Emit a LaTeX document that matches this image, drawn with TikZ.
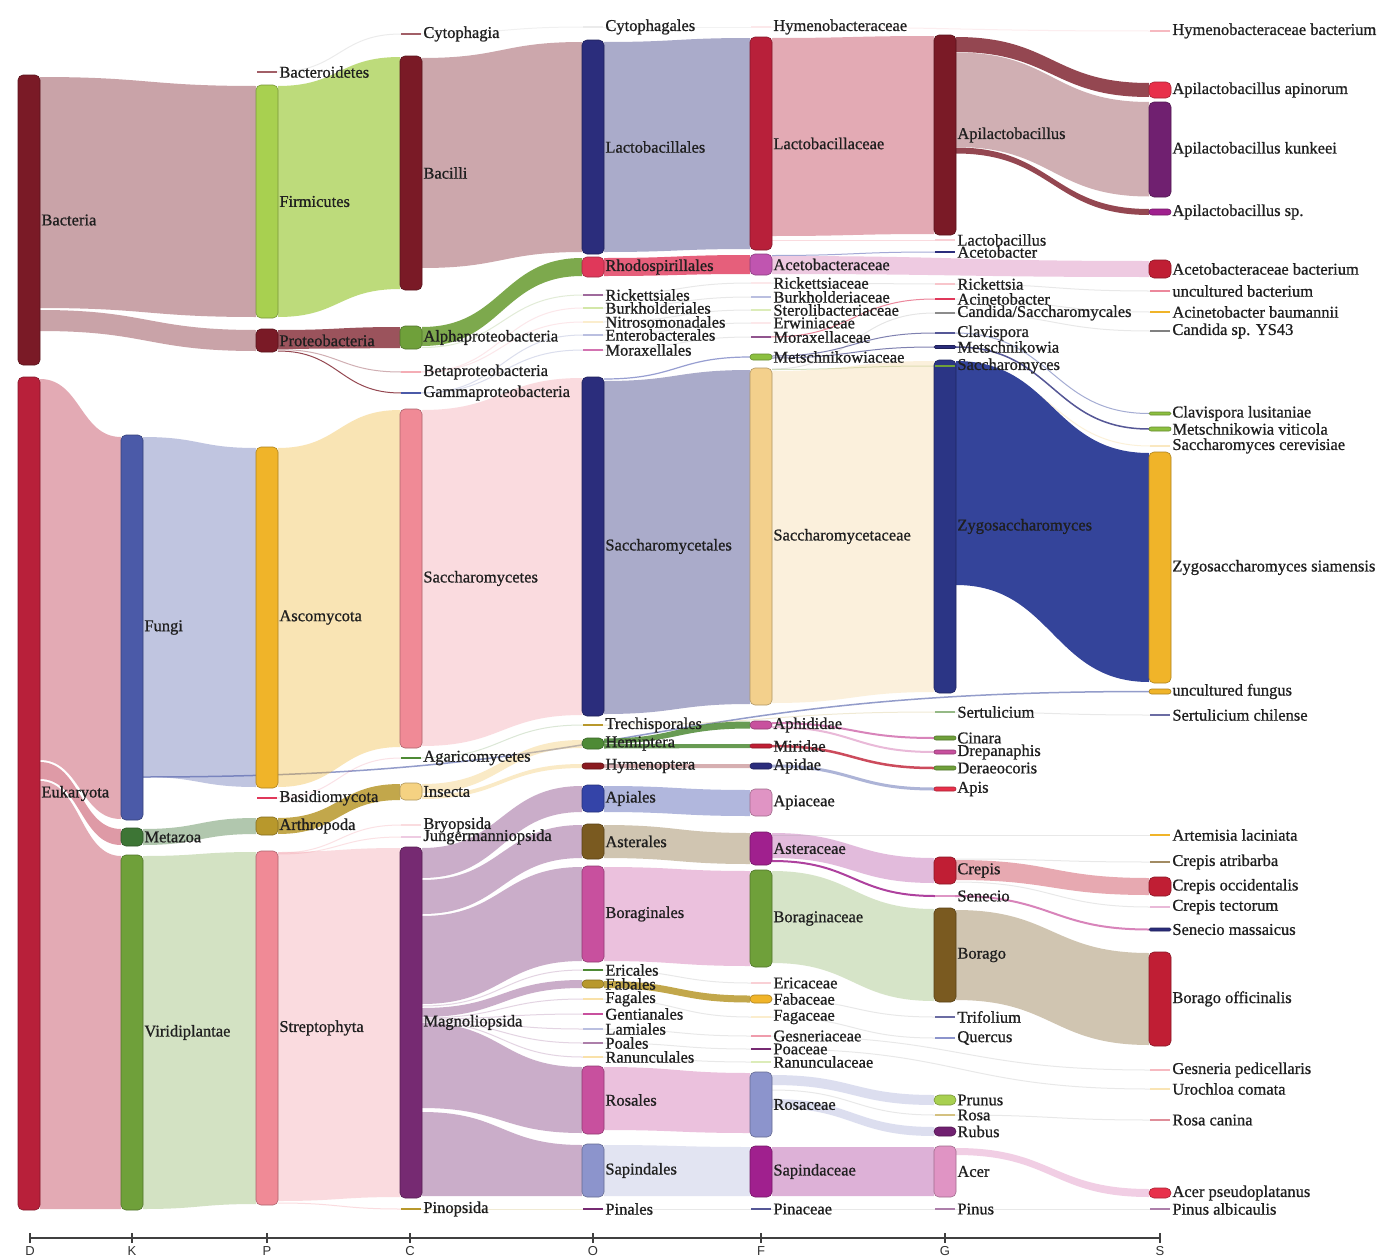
\documentclass[tikz,border=0pt]{standalone}
\usepackage{fontspec}
\setmainfont{Liberation Serif}
\newfontfamily\lblfam{Liberation Serif}[FakeBold=0.8]
\newfontfamily\axfont{Liberation Sans}
\usetikzlibrary{calc}
\pgfdeclarelayer{back}
\pgfdeclarelayer{bg}
\pgfsetlayers{back,bg,main}
\definecolor{cMaroon}{HTML}{7A1A26}
\definecolor{cCrimson}{HTML}{B8203A}
\definecolor{cFungi}{HTML}{4B5AA8}
\definecolor{cMetaz}{HTML}{3D7535}
\definecolor{cGreen}{HTML}{6FA03A}
\definecolor{cLime}{HTML}{A8D050}
\definecolor{cAmber}{HTML}{F0B429}
\definecolor{cOlive}{HTML}{B8982C}
\definecolor{cPink}{HTML}{F08A96}
\definecolor{cInsect}{HTML}{F5D282}
\definecolor{cPurple}{HTML}{762A72}
\definecolor{cNavy}{HTML}{2B2D7C}
\definecolor{cRhodo}{HTML}{E0385A}
\definecolor{cHemi}{HTML}{4E8A35}
\definecolor{cHymen}{HTML}{8A1A20}
\definecolor{cBlue}{HTML}{3444A8}
\definecolor{cBrown}{HTML}{7A5A20}
\definecolor{cMag}{HTML}{C8509E}
\definecolor{cPeri}{HTML}{8C94CC}
\definecolor{cAceF}{HTML}{C055B0}
\definecolor{cMetF}{HTML}{8CC040}
\definecolor{cSacF}{HTML}{F3D08C}
\definecolor{cMagD}{HTML}{A0208E}
\definecolor{cRose}{HTML}{E094C4}
\definecolor{cZygo}{HTML}{2B3585}
\definecolor{cZband}{HTML}{34449A}
\definecolor{cRed}{HTML}{C01E34}
\definecolor{cDeep}{HTML}{702070}
\definecolor{cApin}{HTML}{E8304A}
\newcommand\lblfont{\lblfam\fontsize{16.5pt}{17pt}\selectfont}
\tikzset{
  barshape/.style={minimum width=22pt, inner sep=0pt, outer sep=0pt, line width=0.6pt},
  lbl/.style={anchor=west, inner sep=1.2pt, font=\lblfont, text=black!88},
  fb/.style 2 args={fill=#1, fill opacity=#2, draw=none},
  lnk/.style 2 args={draw=#1, draw opacity=#2, line width=1pt},
  faint/.style={draw=black!40, draw opacity=.22, line width=1pt},
  axisline/.style={draw=black!75, line width=1.8pt},
  axl/.style={anchor=north, inner sep=0pt, font=\axfont\fontsize{13pt}{13pt}\selectfont, text=black!80}
}
% bar node: name, x, ytop, ybot, colour, label
\newcommand\sknode[6]{%
  \pgfmathsetmacro\ndh{#4-#3}%
  \pgfmathsetmacro\ndr{min(5,\ndh/2)}%
  \node[barshape, fill=#5, draw=#5!72!black, minimum height=\ndh pt, rounded corners=\ndr pt] (#1) at (#2,{(#3+#4)/2}) {};%
  \node[lbl] (#1l) at (#1.east) {#6};%
}
% thin tick node: name, x, y, colour, label
\newcommand\sktick[5]{%
  \node[barshape, fill=#4, minimum height=2pt, minimum width=20pt] (#1) at (#2,#3) {};%
  \node[lbl] (#1l) at ([xshift=1pt]#1.east) {#5};%
}
% band: src, top, bot, tgt, top, bot, style
\newcommand\skflow[7]{%
  \path[#7] let \p1=(#1.east), \p2=(#4.west), \p3=($(\p1)!0.5!(\p2)$) in
    (\x1,-#2pt) .. controls (\x3,-#2pt) and (\x3,-#5pt) .. (\x2,-#5pt)
    -- (\x2,-#6pt) .. controls (\x3,-#6pt) and (\x3,-#3pt) .. (\x1,-#3pt) -- cycle;%
}
% thin link: src, y, tgt, y, style
\newcommand\sklink[5]{%
  \draw[#5] let \p1=(#1.east), \p2=(#3.west), \p3=($(\p1)!0.5!(\p2)$) in
    (\x1,-#2pt) .. controls (\x3,-#2pt) and (\x3,-#4pt) .. (\x2,-#4pt);%
}
\begin{document}
\begin{tikzpicture}[x=1pt,y=-1pt]
\useasboundingbox (0,0) rectangle (1385,1258);
\begin{pgfonlayer}{back}
\fill[white] (0,0) rectangle (1385,1258);
\end{pgfonlayer}
% ---------- D
\sknode{bac}{29}{75}{365}{cMaroon}{Bacteria}
\sknode{euk}{29}{377}{1210}{cCrimson}{Eukaryota}
% ---------- K
\sknode{fungi}{132}{435}{820}{cFungi}{Fungi}
\sknode{metaz}{132}{828}{846}{cMetaz}{Metazoa}
\sknode{virid}{132}{855}{1210}{cGreen}{Viridiplantae}
% ---------- P
\sktick{bacteroid}{267}{72}{cMaroon!70}{Bacteroidetes}
\sknode{firm}{267}{85}{318}{cLime}{Firmicutes}
\sknode{proteo}{267}{329}{352}{cMaroon}{Proteobacteria}
\sknode{asco}{267}{447}{788}{cAmber}{Ascomycota}
\sktick{basid}{267}{798}{cRhodo}{Basidiomycota}
\sknode{arthro}{267}{817}{835}{cOlive}{Arthropoda}
\sknode{strep}{267}{851}{1205}{cPink}{Streptophyta}
% ---------- C
\sktick{cytoph}{411}{34}{cMaroon!70}{Cytophagia}
\sknode{bacilli}{411}{56}{290}{cMaroon}{Bacilli}
\sknode{alpha}{411}{326}{349}{cGreen}{Alphaproteobacteria}
\sktick{beta}{411}{372}{cPink!70}{Betaproteobacteria}
\sktick{gamma}{411}{393}{cFungi}{Gammaproteobacteria}
\sknode{saccs}{411}{409}{748}{cPink}{Saccharomycetes}
\sktick{agari}{411}{758}{cHemi}{Agaricomycetes}
\sknode{insecta}{411}{783}{800}{cInsect}{Insecta}
\sktick{bryo}{411}{825}{cPink!30}{Bryopsida}
\sktick{junger}{411}{837}{cMag!30}{Jungermanniopsida}
\sknode{magno}{411}{847}{1198}{cPurple}{Magnoliopsida}
\sktick{pinop}{411}{1209}{cOlive}{Pinopsida}
% ---------- O
\sktick{cytophales}{593}{27}{black!8}{Cytophagales}
\sknode{lactales}{593}{40}{254}{cNavy}{Lactobacillales}
\sknode{rhodo}{593}{257}{277}{cRhodo}{Rhodospirillales}
\sktick{ricketts}{593}{295}{cPurple!70}{Rickettsiales}
\sktick{burkh}{593}{308}{cLime!50}{Burkholderiales}
\sktick{nitro}{593}{322}{cInsect!40}{Nitrosomonadales}
\sktick{entero}{593}{335}{cPeri!60}{Enterobacterales}
\sktick{morax}{593}{350}{cMag!80}{Moraxellales}
\sknode{saccales}{593}{377}{716}{cNavy}{Saccharomycetales}
\sktick{trech}{593}{725}{cOlive}{Trechisporales}
\sknode{hemi}{593}{738}{749}{cHemi}{Hemiptera}
\sknode{hymen}{593}{763}{769}{cHymen}{Hymenoptera}
\sknode{apiales}{593}{785}{812}{cBlue}{Apiales}
\sknode{asterales}{593}{824}{859}{cBrown}{Asterales}
\sknode{borales}{593}{866}{962}{cMag}{Boraginales}
\sktick{ericales}{593}{970}{cHemi}{Ericales}
\sknode{fabales}{593}{980}{988}{cOlive}{Fabales}
\sktick{fagales}{593}{999}{cAmber!40}{Fagales}
\sktick{gentian}{593}{1014}{cMag}{Gentianales}
\sktick{lamiales}{593}{1029}{cPeri!60}{Lamiales}
\sktick{poales}{593}{1043}{cPurple!60}{Poales}
\sktick{ranunc}{593}{1057}{cAmber!40}{Ranunculales}
\sknode{rosales}{593}{1066}{1134}{cMag}{Rosales}
\sknode{sapales}{593}{1144}{1197}{cPeri}{Sapindales}
\sktick{pinales}{593}{1209}{cPurple}{Pinales}
% ---------- F
\sktick{hymfam}{761}{27}{cPink!20}{Hymenobacteraceae}
\sknode{lacfam}{761}{37}{250}{cCrimson}{Lactobacillaceae}
\sknode{acefam}{761}{254}{275}{cAceF}{Acetobacteraceae}
\sktick{rickfam}{761}{283}{cPink!20}{Rickettsiaceae}
\sktick{burkfam}{761}{297}{cPeri!60}{Burkholderiaceae}
\sktick{sterfam}{761}{310}{cLime!40}{Sterolibacteriaceae}
\sktick{erwfam}{761}{323}{cPink!20}{Erwiniaceae}
\sktick{morfam}{761}{337}{cPurple!80}{Moraxellaceae}
\sknode{metfam}{761}{354}{360}{cMetF}{Metschnikowiaceae}
\sknode{sacfam}{761}{368}{705}{cSacF}{Saccharomycetaceae}
\sknode{aphid}{761}{721}{729}{cMag}{Aphididae}
\sknode{mirid}{761}{744}{748}{cRed}{Miridae}
\sknode{apid}{761}{763}{769}{cNavy}{Apidae}
\sknode{apiac}{761}{789}{816}{cRose}{Apiaceae}
\sknode{astfam}{761}{832}{865}{cMagD}{Asteraceae}
\sknode{borfam}{761}{870}{967}{cGreen}{Boraginaceae}
\sktick{ericfam}{761}{983}{cPink!40}{Ericaceae}
\sknode{fabfam}{761}{995}{1003}{cAmber}{Fabaceae}
\sktick{fagfam}{761}{1017}{cInsect!40}{Fagaceae}
\sktick{gesfam}{761}{1036}{cRhodo!50}{Gesneriaceae}
\sktick{poafam}{761}{1049}{cPurple}{Poaceae}
\sktick{ranfam}{761}{1062}{cLime!40}{Ranunculaceae}
\sknode{rosfam}{761}{1072}{1137}{cPeri}{Rosaceae}
\sknode{sapfam}{761}{1146}{1197}{cMagD}{Sapindaceae}
\sktick{pinfam}{761}{1209}{cNavy!80}{Pinaceae}
% ---------- G
\sknode{apilac}{945}{35}{235}{cMaroon}{Apilactobacillus}
\sktick{lactob}{945}{240}{cPink!40}{Lactobacillus}
\sktick{acetob}{945}{252}{cNavy}{Acetobacter}
\sktick{ricka}{945}{284}{cPink!50}{Rickettsia}
\sktick{acin}{945}{299}{cRhodo}{Acinetobacter}
\sktick{candsac}{945}{313}{black!45}{Candida/Saccharomycales}
\sktick{clav}{945}{333}{cNavy!80}{Clavispora}
\sknode{metsch}{945}{345.5}{348.5}{cNavy}{Metschnikowia}
\sknode{zygo}{945}{360}{693}{cZygo}{Zygosaccharomyces}
\sktick{saccharo}{945}{366}{cGreen}{Saccharomyces}
\sktick{sertul}{945}{712}{cHemi!60}{Sertulicium}
\sknode{cinara}{945}{736}{740}{cGreen}{Cinara}
\sknode{drepan}{945}{750}{754}{cMag}{Drepanaphis}
\sknode{deraeo}{945}{766}{770}{cGreen}{Deraeocoris}
\sknode{apis}{945}{787}{791}{cApin}{Apis}
\sknode{crepis}{945}{857}{884}{cRed}{Crepis}
\sktick{senecio}{945}{896}{cMag!60}{Senecio}
\sknode{borago}{945}{908}{1002}{cBrown}{Borago}
\sktick{trifol}{945}{1017}{cNavy!70}{Trifolium}
\sktick{quercus}{945}{1038}{cPeri}{Quercus}
\sknode{prunus}{945}{1095}{1105}{cLime}{Prunus}
\sktick{rosa}{945}{1115}{cOlive!60}{Rosa}
\sknode{rubus}{945}{1127}{1136}{cDeep}{Rubus}
\sknode{acer}{945}{1146}{1197}{cRose}{Acer}
\sktick{pinus}{945}{1209}{cPurple!60}{Pinus}
% ---------- S
\sktick{hymbact}{1160}{31}{cPink!60}{Hymenobacteraceae bacterium}
\sknode{apinor}{1160}{82}{98}{cApin}{Apilactobacillus apinorum}
\sknode{kunk}{1160}{102}{197}{cDeep}{Apilactobacillus kunkeei}
\sknode{apisp}{1160}{209}{215}{cMagD}{Apilactobacillus sp.}
\sknode{acebac}{1160}{260}{278}{cRed}{Acetobacteraceae bacterium}
\sktick{uncbac}{1160}{291}{cRhodo!60}{uncultured bacterium}
\sktick{acibau}{1160}{312}{cAmber}{Acinetobacter baumannii}
\sktick{candys}{1160}{331}{black!50}{Candida sp. YS43}
\sknode{clavlus}{1160}{412}{415}{cMetF}{Clavispora lusitaniae}
\sknode{metvit}{1160}{427}{431}{cMetF}{Metschnikowia viticola}
\sktick{saccer}{1160}{446}{cInsect!50}{Saccharomyces cerevisiae}
\sknode{zygsia}{1160}{452}{683}{cAmber}{Zygosaccharomyces siamensis}
\sknode{uncfun}{1160}{689}{694}{cAmber}{uncultured fungus}
\sktick{sertch}{1160}{715}{cNavy!70}{Sertulicium chilense}
\sktick{artem}{1160}{835}{cAmber}{Artemisia laciniata}
\sktick{crepatr}{1160}{862}{cBrown!70}{Crepis atribarba}
\sknode{crepocc}{1160}{877}{896}{cRed}{Crepis occidentalis}
\sktick{creptec}{1160}{907}{cMag!40}{Crepis tectorum}
\sknode{senmas}{1160}{928}{931}{cNavy}{Senecio massaicus}
\sknode{boroff}{1160}{952}{1046}{cRed}{Borago officinalis}
\sktick{gesped}{1160}{1070}{cPink!60}{Gesneria pedicellaris}
\sktick{uroch}{1160}{1089}{cInsect!60}{Urochloa comata}
\sktick{rosacan}{1160}{1120}{cRed!50}{Rosa canina}
\sknode{acerps}{1160}{1188}{1198}{cApin}{Acer pseudoplatanus}
\sktick{pinalb}{1160}{1209}{cPurple!60}{Pinus albicaulis}
% ---------- flows
\begin{pgfonlayer}{bg}
% D -> P / K
\skflow{bac}{77}{308}{firm}{86}{317}{fb={cMaroon}{.4}}
\skflow{bac}{310}{331}{proteo}{330}{351}{fb={cMaroon}{.4}}
\skflow{euk}{379}{760}{fungi}{437}{819}{fb={cCrimson}{.38}}
\skflow{euk}{762}{779}{metaz}{829}{845}{fb={cCrimson}{.45}}
\skflow{euk}{781}{1209}{virid}{856}{1209}{fb={cCrimson}{.38}}
% K -> P
\skflow{fungi}{437}{777}{asco}{448}{787}{fb={cFungi}{.35}}
\skflow{metaz}{829}{845}{arthro}{818}{834}{fb={cMetaz}{.4}}
\skflow{virid}{856}{1209}{strep}{852}{1204}{fb={cGreen}{.3}}
\sklink{fungi}{777}{uncfun}{691.5}{lnk={cFungi}{.6}, line width=1.5pt}
% P -> C
\sklink{bacteroid}{72}{cytoph}{34}{lnk={black}{.08}}
\skflow{firm}{86}{317}{bacilli}{57}{289}{fb={cLime}{.75}}
\skflow{proteo}{330}{349}{alpha}{327}{348}{fb={cMaroon}{.75}}
\sklink{proteo}{349.5}{beta}{372}{lnk={cMaroon}{.35}}
\sklink{proteo}{351}{gamma}{393}{lnk={cMaroon}{.8}}
\skflow{asco}{448}{787}{saccs}{410}{747}{fb={cAmber}{.35}}
\sklink{basid}{798}{agari}{758}{lnk={cRhodo}{.15}}
\skflow{arthro}{818}{834}{insecta}{784}{800}{fb={cOlive}{.85}}
\skflow{strep}{852}{1201}{magno}{848}{1197}{fb={cPink}{.3}}
\sklink{strep}{853}{bryo}{825}{lnk={cPink}{.25}}
\sklink{strep}{854}{junger}{837}{lnk={cPink}{.25}}
\sklink{strep}{1203}{pinop}{1209}{lnk={cPink}{.3}}
% C -> O
\sklink{cytoph}{34}{cytophales}{27}{lnk={black}{.06}}
\skflow{bacilli}{58}{268}{lactales}{42}{252}{fb={cMaroon}{.38}}
\skflow{alpha}{327}{346}{rhodo}{258}{276}{fb={cGreen}{.9}}
\sklink{alpha}{347.5}{ricketts}{295}{lnk={cGreen}{.2}}
\sklink{beta}{372}{burkh}{308}{lnk={cPink}{.2}}
\sklink{beta}{372}{nitro}{322}{lnk={cPink}{.2}}
\sklink{gamma}{393}{entero}{335}{lnk={cFungi}{.2}}
\sklink{gamma}{393}{morax}{350}{lnk={cFungi}{.2}}
\skflow{saccs}{410}{746}{saccales}{378}{715}{fb={cPink}{.3}}
\sklink{agari}{758}{trech}{725}{lnk={cHemi}{.2}}
\skflow{insecta}{784}{793}{hemi}{740}{748}{fb={cInsect}{.45}}
\skflow{insecta}{795}{799}{hymen}{764}{768}{fb={cInsect}{.45}}
\skflow{magno}{848}{878}{apiales}{786}{812}{fb={cPurple}{.38}}
\skflow{magno}{880}{914}{asterales}{825}{858}{fb={cPurple}{.38}}
\skflow{magno}{916}{1004}{borales}{867}{961}{fb={cPurple}{.38}}
\sklink{magno}{1006}{ericales}{970}{lnk={cPurple}{.2}}
\skflow{magno}{1008}{1017}{fabales}{980}{988}{fb={cPurple}{.38}}
\sklink{magno}{1018}{fagales}{999}{lnk={cPurple}{.2}}
\sklink{magno}{1019}{gentian}{1014}{lnk={cPurple}{.2}}
\sklink{magno}{1020}{lamiales}{1029}{lnk={cPurple}{.2}}
\sklink{magno}{1021}{poales}{1043}{lnk={cPurple}{.2}}
\sklink{magno}{1022}{ranunc}{1057}{lnk={cPurple}{.2}}
\skflow{magno}{1023}{1108}{rosales}{1067}{1133}{fb={cPurple}{.38}}
\skflow{magno}{1112}{1196}{sapales}{1145}{1196}{fb={cPurple}{.38}}
\sklink{pinop}{1209}{pinales}{1209}{lnk={cOlive}{.2}}
% O -> F
\sklink{cytophales}{27}{hymfam}{27}{lnk={black}{.05}}
\skflow{lactales}{42}{252}{lacfam}{38}{249}{fb={cNavy}{.4}}
\skflow{rhodo}{258}{276}{acefam}{255}{274}{fb={cRhodo}{.8}}
\sklink{ricketts}{295}{rickfam}{283}{faint}
\sklink{burkh}{308}{burkfam}{297}{faint}
\sklink{nitro}{322}{sterfam}{310}{faint}
\sklink{entero}{335}{erwfam}{323}{faint}
\sklink{morax}{350}{morfam}{337}{faint}
\sklink{saccales}{379}{metfam}{357}{lnk={cPeri}{.9}, line width=1.2pt}
\skflow{saccales}{381}{714}{sacfam}{370}{704}{fb={cNavy}{.4}}
\skflow{hemi}{738.5}{743.5}{aphid}{721.5}{728.5}{fb={cHemi}{.85}}
\skflow{hemi}{744}{748.5}{mirid}{744}{748}{fb={cHemi}{.85}}
\skflow{hymen}{764}{768}{apid}{764}{768}{fb={cHymen}{.35}}
\skflow{apiales}{786}{812}{apiac}{790}{816}{fb={cBlue}{.38}}
\skflow{asterales}{825}{858}{astfam}{833}{864}{fb={cBrown}{.35}}
\skflow{borales}{867}{961}{borfam}{871}{966}{fb={cMag}{.35}}
\sklink{ericales}{970}{ericfam}{983}{faint}
\skflow{fabales}{981}{988}{fabfam}{995.5}{1002.5}{fb={cOlive}{.85}}
\sklink{fagales}{999}{fagfam}{1017}{faint}
\sklink{lamiales}{1029}{gesfam}{1036}{faint}
\sklink{poales}{1043}{poafam}{1049}{faint}
\sklink{ranunc}{1057}{ranfam}{1062}{faint}
\skflow{rosales}{1067}{1130}{rosfam}{1073}{1133}{fb={cMag}{.35}}
\skflow{sapales}{1145}{1196}{sapfam}{1147}{1196}{fb={cPeri}{.25}}
\sklink{pinales}{1209}{pinfam}{1209}{faint}
% F -> G
\skflow{lacfam}{38}{236}{apilac}{36}{234}{fb={cCrimson}{.38}}
\sklink{lacfam}{240}{lactob}{240}{lnk={cPink}{.3}}
\sklink{acefam}{255.5}{acetob}{252}{lnk={cPeri}{.8}}
\sklink{rickfam}{283}{ricka}{284}{faint}
\sklink{morfam}{337}{acin}{299}{lnk={cRhodo}{.6}}
\sklink{metfam}{356}{clav}{333}{lnk={cNavy}{.6}}
\sklink{metfam}{358}{metsch}{347}{lnk={cNavy}{.6}}
\sklink{sacfam}{369.5}{saccharo}{366}{lnk={cGreen}{.3}}
\sklink{sacfam}{369}{candsac}{313}{lnk={black}{.1}}
\skflow{sacfam}{371}{703}{zygo}{361}{692}{fb={cSacF}{.3}}
\sklink{trech}{725}{sertul}{712}{lnk={cOlive}{.2}}
\sklink{aphid}{723}{cinara}{738}{lnk={cMag}{.7}, line width=2pt}
\sklink{aphid}{727}{drepan}{752}{lnk={cMag}{.4}, line width=2pt}
\sklink{mirid}{746}{deraeo}{768}{lnk={cRed}{.8}, line width=2.5pt}
\sklink{apid}{766}{apis}{789}{lnk={cFungi}{.45}, line width=3pt}
\skflow{astfam}{833}{858}{crepis}{858}{883}{fb={cMagD}{.3}}
\sklink{astfam}{861}{senecio}{896}{lnk={cMagD}{.85}, line width=2pt}
\skflow{borfam}{871}{963}{borago}{909}{1001}{fb={cGreen}{.28}}
\sklink{fabfam}{999}{trifol}{1017}{faint}
\sklink{fagfam}{1017}{quercus}{1038}{faint}
\skflow{rosfam}{1075}{1085}{prunus}{1095}{1105}{fb={cPeri}{.3}}
\sklink{rosfam}{1090}{rosa}{1115}{faint}
\skflow{rosfam}{1099}{1108}{rubus}{1127}{1136}{fb={cPeri}{.3}}
\skflow{sapfam}{1147}{1196}{acer}{1147}{1196}{fb={cMagD}{.35}}
\sklink{pinfam}{1209}{pinus}{1209}{faint}
% G -> S
\sklink{hymfam}{27}{hymbact}{31}{lnk={cPink}{.15}}
\skflow{apilac}{37}{52}{apinor}{83}{97}{fb={cMaroon}{.8}}
\skflow{apilac}{52.5}{147}{kunk}{102}{196.5}{fb={cMaroon}{.35}}
\skflow{apilac}{147.5}{153.5}{apisp}{209}{215}{fb={cMaroon}{.8}}
\skflow{acefam}{256}{274}{acebac}{261}{277}{fb={cMag}{.3}}
\sklink{ricka}{284}{uncbac}{291}{faint}
\sklink{acin}{299}{acibau}{312}{faint}
\sklink{candsac}{313}{candys}{331}{faint}
\sklink{clav}{333}{clavlus}{413.5}{lnk={cFungi}{.5}}
\sklink{metsch}{347}{metvit}{429}{lnk={cNavy}{.8}, line width=1.5pt}
\sklink{saccharo}{366}{saccer}{446}{lnk={cInsect}{.3}}
\skflow{zygo}{361}{585}{zygsia}{453}{682}{fill=cZband}
\sklink{sertul}{712}{sertch}{715}{faint}
\sklink{astfam}{835}{artem}{835}{faint}
\sklink{crepis}{859}{crepatr}{862}{faint}
\skflow{crepis}{860}{880}{crepocc}{878}{895}{fb={cRed}{.38}}
\sklink{crepis}{882}{creptec}{907}{faint}
\sklink{senecio}{896}{senmas}{929.5}{lnk={cMag}{.7}, line width=2pt}
\skflow{borago}{910}{1000}{boroff}{953}{1045}{fb={cBrown}{.35}}
\sklink{gesfam}{1036}{gesped}{1070}{faint}
\sklink{poafam}{1049}{uroch}{1089}{faint}
\sklink{rosa}{1115}{rosacan}{1120}{faint}
\skflow{acer}{1148}{1155}{acerps}{1189}{1197}{fb={cRose}{.45}}
\sklink{pinus}{1209}{pinalb}{1209}{faint}
\end{pgfonlayer}
% ---------- axis
\foreach \n/\xx in {D/30,K/132,P/267,C/410,O/593,F/761,G/945,S/1160}{
  \coordinate (ax\n) at (\xx,1238);
  \draw[axisline, line width=1.2pt] (\xx,1233) -- (\xx,1243);
  \node[axl] (t\n) at (\xx,1246) {\n};
}
\draw[axisline] (axD) -- (axS);
\end{tikzpicture}
\end{document}
